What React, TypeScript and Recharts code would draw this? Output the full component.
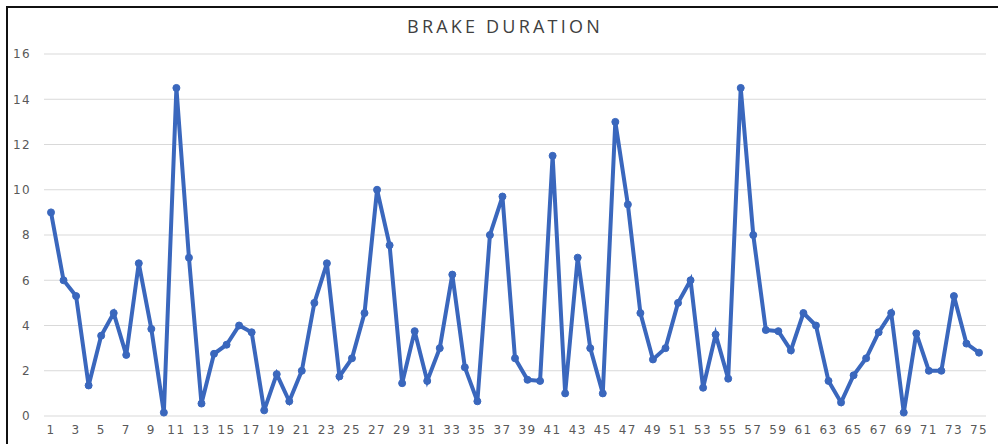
import React from 'react'
import { LineChart, Line, XAxis, YAxis, CartesianGrid } from 'recharts'

// Brake duration per sample
const SAMPLES = Array.from({ length: 75 }, (_, i) => String(i + 1))
const DURATION = [
    9, 6, 5.3, 1.35, 3.55, 4.55, 2.7, 6.75, 3.85, 0.15,
    14.5, 7, 0.55, 2.75, 3.15, 4, 3.7, 0.25, 1.85, 0.65,
    2, 5, 6.75, 1.75, 2.55, 4.55, 10, 7.55, 1.45, 3.75,
    1.55, 3, 6.25, 2.15, 0.65, 8, 9.7, 2.55, 1.6, 1.55,
    11.5, 1, 7, 3, 1, 13, 9.35, 4.55, 2.5, 3,
    5, 6, 1.25, 3.6, 1.65, 14.5, 8, 3.8, 3.75, 2.9,
    4.55, 4, 1.55, 0.6, 1.8, 2.55, 3.7, 4.55, 0.15, 3.65,
    2, 2, 5.3, 3.2, 2.8,
]
const Y_TICKS = [0, 2, 4, 6, 8, 10, 12, 14, 16]

const LINE_BLUE = '#3A67BD'
const GRID_GRAY = '#D9D9D9'
const TEXT_GRAY = '#595959'

const data = SAMPLES.map((s, i) => ({ sample: s, duration: DURATION[i] }))

const tickStyle = { fill: TEXT_GRAY, fontSize: 12, fontFamily: '"DejaVu Sans", sans-serif', letterSpacing: 1.4 }

export default function App() {
    return (
        <div style={{ position: 'fixed', top: 0, left: 0, width: 998, height: 444, background: '#FFFFFF', overflow: 'hidden' }}>
            {/* chart frame: only top and left edges fall inside the picture */}
            <div style={{ position: 'absolute', left: 6, top: 6, width: 992, height: 2, background: '#111111' }} />
            <div style={{ position: 'absolute', left: 6, top: 6, width: 2, height: 438, background: '#111111' }} />
            <div
                style={{
                    position: 'absolute',
                    top: 14,
                    left: 0,
                    width: 1010,
                    textAlign: 'center',
                    fontFamily: '"Open Sans", sans-serif',
                    fontSize: 18,
                    letterSpacing: 3.2,
                    color: '#404040',
                }}
            >
                BRAKE DURATION
            </div>
            <div style={{ position: 'absolute', top: 0, left: 0 }}>
                <LineChart width={998} height={444} data={data} margin={{ top: 54, right: 12, bottom: 0, left: 0 }}>
                    <CartesianGrid vertical={false} stroke={GRID_GRAY} strokeWidth={1} />
                    <XAxis
                        dataKey="sample"
                        interval={1}
                        axisLine={false}
                        tickLine={false}
                        tickSize={0}
                        tickMargin={9}
                        height={28}
                        padding={{ left: 7, right: 7 }}
                        tick={tickStyle}
                    />
                    <YAxis
                        domain={[0, 16]}
                        ticks={Y_TICKS}
                        width={44}
                        axisLine={false}
                        tickLine={false}
                        tickSize={0}
                        tickMargin={13}
                        tick={tickStyle}
                    />
                    <Line
                        type="linear"
                        dataKey="duration"
                        stroke={LINE_BLUE}
                        strokeWidth={4}
                        dot={{ r: 3.5, fill: LINE_BLUE, stroke: LINE_BLUE, strokeWidth: 1 }}
                        isAnimationActive={false}
                    />
                </LineChart>
            </div>
        </div>
    )
}
